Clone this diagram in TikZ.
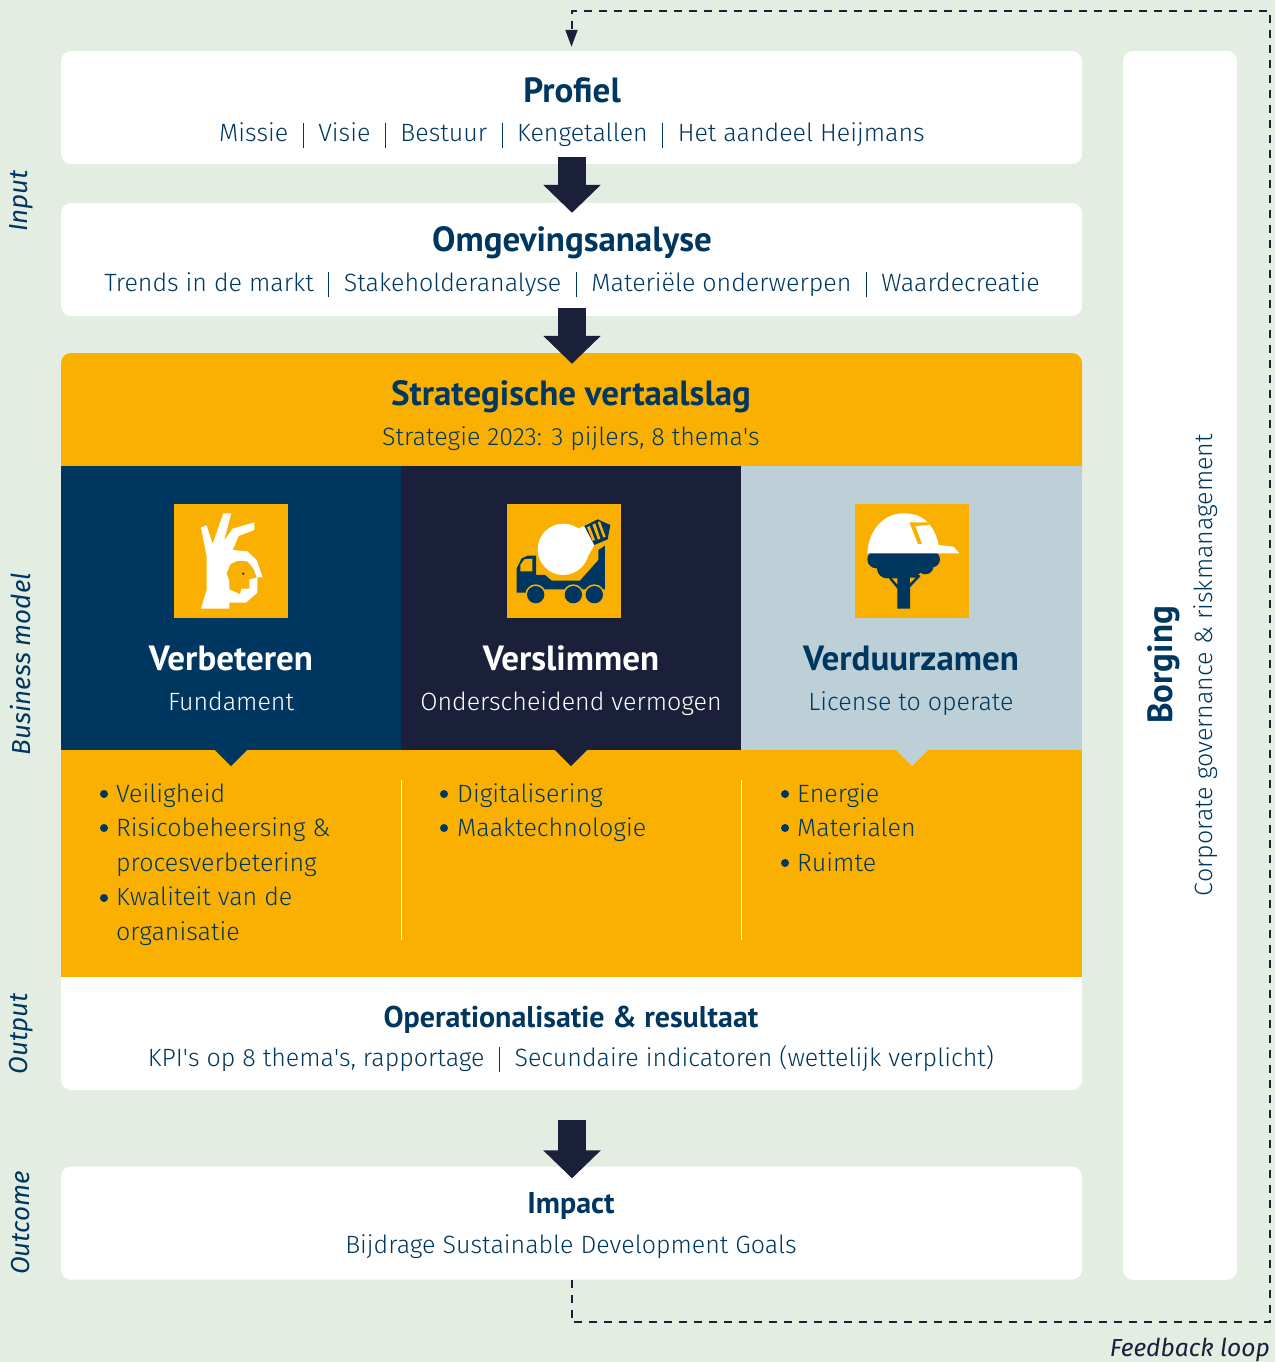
\documentclass[tikz,border=0pt]{standalone}
\usepackage{fontspec}
\setmainfont{Fira Sans Light}[ItalicFont={Fira Sans Italic},BoldFont={Fira Sans Bold}]
\newfontfamily\headfont{PT Sans}
\usetikzlibrary{arrows.meta,positioning,calc}
\definecolor{pagegreen}{RGB}{227,237,226}
\definecolor{heijblue}{RGB}{0,55,96}
\definecolor{heijdark}{RGB}{26,31,58}
\definecolor{heijgrey}{RGB}{189,208,216}
\definecolor{heijamber}{RGB}{250,176,0}
\newcommand{\sepbar}{\hspace{14.5pt}\rule[-6pt]{1pt}{25pt}\hspace{14.5pt}}
\tikzset{
	whitebox/.style={fill=white, rounded corners=10pt, minimum width=1021pt, minimum height=113pt, inner sep=0pt},
	colbox/.style={minimum width=340pt, minimum height=284pt, inner sep=0pt, anchor=north west},
	iconbox/.style={fill=heijamber, minimum width=114pt, minimum height=114pt, inner sep=0pt},
	bigtitle/.style={text=heijblue, anchor=base, font=\headfont\bfseries\fontsize{35}{40}\selectfont},
	midtitle/.style={text=heijblue, anchor=base, font=\headfont\bfseries\fontsize{30}{38}\selectfont},
	subtext/.style={text=heijblue, anchor=base, font=\fontsize{25}{30}\selectfont},
	sidelabel/.style={text=heijblue, rotate=90, font=\itshape\fontsize{26}{30}\selectfont},
	bulletlist/.style={text=heijblue, align=left, anchor=north west, inner sep=0pt, font=\fontsize{25}{34.6}\selectfont},
	blockarrow/.style={line width=28pt, heijdark, -{Triangle[length=28pt,width=56pt]}},
	feedback/.style={heijdark, line width=2pt, dash pattern=on 8pt off 7pt, -{Triangle[length=17pt,width=12pt]}}
}
\begin{document}
\begin{tikzpicture}[x=1pt,y=-1pt]
	\useasboundingbox (0,0) rectangle (1275,1362);
	\fill[pagegreen] (0,0) rectangle (1275,1362);

	% Draw the boxes
	\node[whitebox] (profiel) at (571.5,107.5) {};
	\node[whitebox] (omgeving) at (571.5,259.5) {};
	\node[whitebox, fill=heijamber, minimum height=130pt] (strategie) at (571.5,418) {};
	\node[whitebox, minimum height=130pt] (resultaat) at (571.5,1025) {};
	\node[whitebox] (impact) at (571.5,1223) {};
	\node[whitebox, minimum width=114pt, minimum height=1229pt] (borging) at (1180,665.5) {};

	% Draw the three columns
	\node[colbox, fill=heijblue] (verbeteren) at (61,466) {};
	\node[colbox, fill=heijdark] (verslimmen) at (401,466) {};
	\node[colbox, fill=heijgrey, minimum width=341pt] (verduurzamen) at (741,466) {};
	\node[fill=heijamber, minimum width=1021pt, minimum height=227pt, inner sep=0pt] (themas) at (571.5,863.5) {};

	% Draw the small pointers
	\fill[heijblue] (215,750) -- (247,750) -- (231,766) -- cycle;
	\fill[heijdark] (555,750) -- (587,750) -- (571,766) -- cycle;
	\fill[heijgrey] (896,750) -- (928,750) -- (912,766) -- cycle;
	\draw[white, line width=1pt] (401.5,780) -- (401.5,940);
	\draw[white, line width=1pt] (741.5,780) -- (741.5,940);

	% Draw the block arrows
	\draw[blockarrow, shorten <=-7pt, shorten >=-10pt] (profiel.south -| 572,0) -- (omgeving.north -| 572,0);
	\draw[blockarrow, shorten <=-8pt, shorten >=-11pt] (omgeving.south -| 572,0) -- (strategie.north -| 572,0);
	\draw[blockarrow, shorten <=30pt, shorten >=-12pt] (resultaat.south -| 572,0) -- (impact.north -| 572,0);

	% Draw the feedback loop
	\coordinate (loopbottom) at (1270,1322);
	\coordinate (looptop) at (1270,11);
	\draw[feedback, shorten >=4pt] (impact.south) |- (loopbottom) -- (looptop) -| (profiel.north);

	% Titles and subtitles
	\node[bigtitle] (profieltitle) at (572,103) {Profiel};
	\node[subtext] (profielsub) at (572,142) {Missie\sepbar Visie\sepbar Bestuur\sepbar Kengetallen\sepbar Het aandeel Heijmans};
	\node[bigtitle] (omgevingtitle) at (572,251) {Omgevingsanalyse};
	\node[subtext] (omgevingsub) at (572,291) {Trends in de markt\sepbar Stakeholderanalyse\sepbar Materiële onderwerpen\sepbar Waardecreatie};
	\node[bigtitle] (strategietitle) at (571,405) {Strategische vertaalslag};
	\node[subtext] (strategiesub) at (571,445) {Strategie 2023: 3 pijlers, 8 thema\textquotesingle s};
	\node[midtitle] (resultaattitle) at (571,1027) {Operationalisatie \& resultaat};
	\node[subtext] (resultaatsub) at (571,1066) {KPI\textquotesingle s op 8 thema\textquotesingle s, rapportage\sepbar Secundaire indicatoren (wettelijk verplicht)};
	\node[midtitle] (impacttitle) at (571,1213) {Impact};
	\node[subtext] (impactsub) at (571,1253) {Bijdrage Sustainable Development Goals};

	% Column texts
	\node[bigtitle, text=white] (verbeterentitle) at (231,670) {Verbeteren};
	\node[subtext, text=white] (verbeterensub) at (231,710) {Fundament};
	\node[bigtitle, text=white] (verslimmentitle) at (571,670) {Verslimmen};
	\node[subtext, text=white] (verslimmensub) at (571,710) {Onderscheidend vermogen};
	\node[bigtitle] (verduurzamentitle) at (911,670) {Verduurzamen};
	\node[subtext] (verduurzamensub) at (911,710) {License to operate};

	% Bullet lists
	\node[bulletlist] (list1) at (116,783) {Veiligheid\\Risicobeheersing \&\\procesverbetering\\Kwaliteit van de\\organisatie};
	\node[bulletlist] (list2) at (457,783) {Digitalisering\\Maaktechnologie};
	\node[bulletlist] (list3) at (797,783) {Energie\\Materialen\\Ruimte};
	\foreach \dotx/\doty in {104/794, 104/828, 104/898, 444/794, 444/828, 785/794, 785/828, 785/863} {
		\fill[heijblue] (\dotx,\doty) circle (4);
	}

	% Borging and side labels
	\node[bigtitle, rotate=90] (borgingtitle) at (1172,665) {Borging};
	\node[subtext, rotate=90] (borgingsub) at (1212,665) {Corporate governance \& riskmanagement};
	\node[sidelabel] (input) at (21,201) {Input};
	\node[sidelabel] (model) at (21,664) {Business model};
	\node[sidelabel] (output) at (21,1034) {Output};
	\node[sidelabel] (outcome) at (21,1223) {Outcome};
	\node[text=heijdark, anchor=east, inner sep=0pt, font=\itshape\fontsize{24.6}{30}\selectfont] (looplabel) at (1270,1350) {Feedback loop};

	% Icon: hand
	\node[iconbox] (handicon) at (231,561) {};
	\begin{scope}[shift={(160,490)},x=0.3333pt,y=-0.3333pt]
		\fill[white] (123,356) -- (140,300) -- (140,200) -- (123,112) -- (140,106) -- (158,162) -- (190,70) -- (214,70) -- (192,152) -- (218,116) -- (283,97) -- (283,120) -- (236,138) -- (218,180) -- (262,184) -- (290,210) -- (308,262) -- (292,262) -- (292,308) -- (258,338) -- (208,338) -- (208,356) -- cycle;
		\fill[heijamber] (200,250) -- (212,222) -- (232,213) -- (262,214) -- (280,236) -- (290,262) -- (268,268) -- (268,296) -- (244,296) -- (240,312) -- (208,298) -- (208,272) -- cycle;
		\fill[heijblue] (250,251) circle (4);
	\end{scope}

	% Icon: mixer truck
	\node[iconbox] (truckicon) at (564,561) {};
	\begin{scope}[shift={(495,490)},x=0.3333pt,y=-0.3333pt]
		\fill[heijblue] (65,308) -- (65,235) -- (80,205) -- (98,197) -- (123,197) -- (123,255) -- (150,255) -- (170,272) -- (255,272) -- (310,210) -- (310,180) -- (330,167) -- (330,298) -- (95,298) -- (95,308) -- cycle;
		\fill[heijamber] (76,244) -- (76,225) -- (88,208) -- (112,206) -- (112,244) -- cycle;
		\foreach \wheelx in {122,235,298} {
			\fill[heijamber] (\wheelx,314) circle (31);
			\fill[heijblue] (\wheelx,314) circle (26);
		}
		\fill[white] (205,178) circle (77);
		\fill[white] (250,115) -- (268,108) -- (298,165) -- (270,215) -- cycle;
		\fill[heijblue] (268,108) -- (308,88) -- (346,105) -- (338,148) -- (298,165) -- cycle;
		\fill[heijamber] (276,112) -- (284,108) -- (300,150) -- (293,153) -- cycle;
		\fill[heijamber] (292,104) -- (301,100) -- (316,146) -- (309,149) -- cycle;
		\fill[heijamber] (308,97) -- (315,94) -- (332,140) -- (325,143) -- cycle;
	\end{scope}

	% Icon: helmet and tree
	\node[iconbox] (treeicon) at (912,561) {};
	\begin{scope}[shift={(842,490)},x=0.3333pt,y=-0.3333pt]
		\foreach \crownx/\crowny/\crownr in {103/208/27, 135/235/30, 178/228/30, 215/232/26, 250/228/25, 270/208/24} {
			\fill[heijblue] (\crownx,\crowny) circle (\crownr);
		}
		\fill[heijblue] (100,190) rectangle (270,235);
		\fill[heijblue] (138,262) -- (150,252) -- (225,252) -- (236,258) -- (204,292) -- (204,356) -- (166,356) -- (166,296) -- cycle;
		\fill[heijamber] (150,265) -- (166,265) -- (166,283) -- cycle;
		\fill[heijamber] (204,263) -- (220,263) -- (204,279) -- cycle;
		\fill[white] (76,190) .. controls (80,115) and (130,70) .. (183,70) .. controls (220,70) and (245,82) .. (256,97) .. controls (275,115) and (285,140) .. (290,165) -- (335,170) -- (352,190) -- cycle;
		\fill[heijamber] (202,97) -- (256,97) -- (262,105) -- (220,108) -- (240,162) -- (228,162) -- cycle;
	\end{scope}
\end{tikzpicture}
\end{document}
